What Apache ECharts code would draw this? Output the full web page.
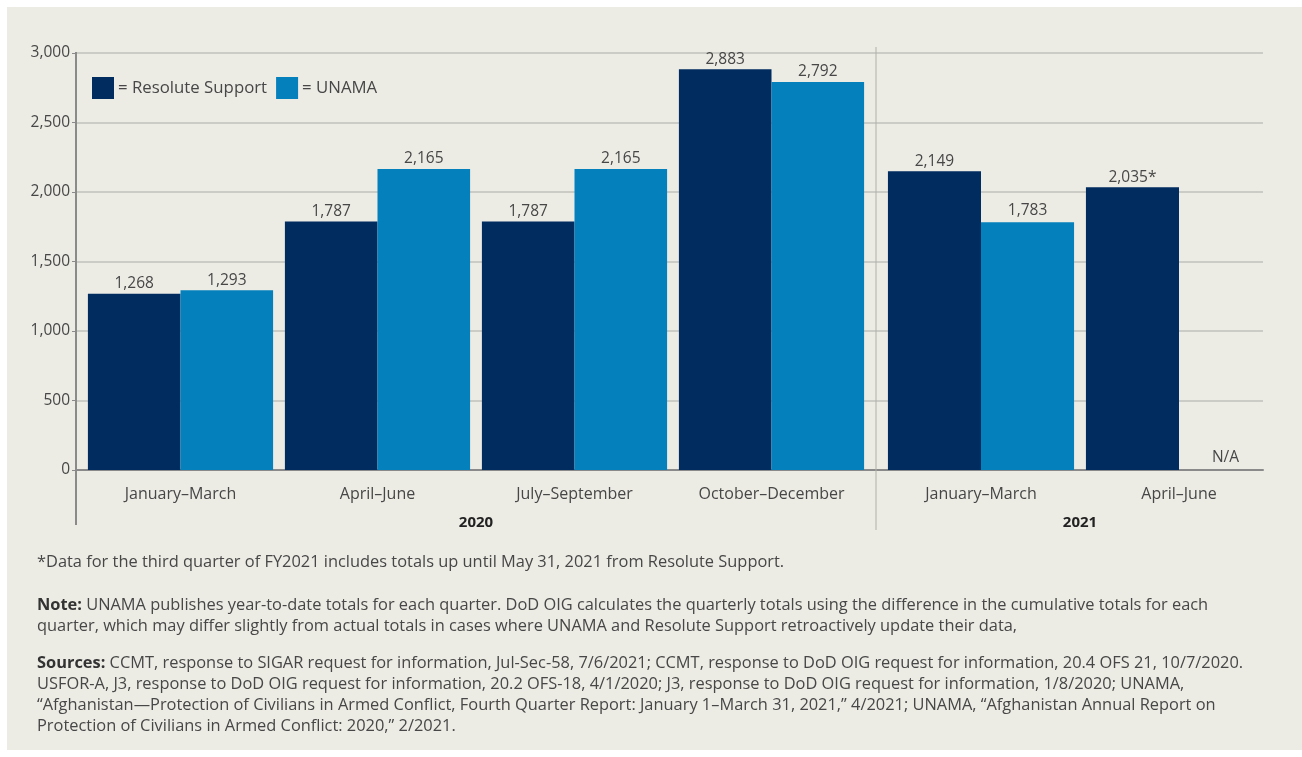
<!DOCTYPE html>
<html>
<head>
<meta charset="utf-8">
<script src="https://cdn.jsdelivr.net/npm/echarts@6/dist/echarts.min.js"></script>
<style>
  html, body { margin: 0; padding: 0; background: #ffffff; }
  #chart { position: absolute; left: 0; top: 0; width: 1302px; height: 757px; }
</style>
</head>
<body>
<div id="chart"></div>
<script>
// quarters per year
var quarters2020 = ['January–March', 'April–June', 'July–September', 'October–December']
var quarters2021 = ['January–March', 'April–June']

// civilian casualties, Resolute Support vs UNAMA
var resolute2020 = [1268, 1787, 1787, 2883]
var unama2020 = [1293, 2165, 2165, 2792]
var resolute2021 = [2149, 2035]
var unama2021 = [1783, null] // N/A
var starred2021 = [false, true] // partial quarter

var yTicks = [0, 500, 1000, 1500, 2000, 2500, 3000]

var DARK = '#002c5f'
var LIGHT = '#0480bd'
var TEXT = '#474747'
var FONT = '"Open Sans", Lato, sans-serif'

var chart = echarts.init(document.getElementById('chart'))

var fmt = function (v) { return v.toLocaleString('en-US') }

var barLabel = {
	show: true,
	position: 'top',
	distance: 2,
	color: TEXT,
	fontSize: 15.5,
	fontFamily: FONT,
	formatter: function (p) { return fmt(p.value) }
}

function catAxis(gridIndex, data, year) {
	return {
		type: 'category',
		gridIndex: gridIndex,
		data: data,
		name: year,
		nameLocation: 'middle',
		nameGap: 45,
		nameTextStyle: { color: '#222', fontWeight: 'bold', fontSize: 15, fontFamily: FONT },
		axisLine: { show: false },
		axisTick: { show: false },
		axisLabel: { color: TEXT, fontSize: 16, fontFamily: FONT, margin: 16, interval: 0 }
	}
}

function hiddenY(gridIndex) {
	return {
		type: 'value', gridIndex: gridIndex, min: 0, max: 3000, interval: 500,
		axisLine: { show: false }, axisTick: { show: false },
		axisLabel: { show: false }, splitLine: { show: false }
	}
}

var noteRich = { b: { fontWeight: 'bold', fill: '#333', fontSize: 16.4, fontFamily: FONT } }

chart.setOption({
	backgroundColor: '#ffffff',
	graphic: [
		{ type: 'rect', z: -10, silent: true, shape: { x: 7, y: 7, width: 1295, height: 743 }, style: { fill: '#ecebe4' } },
		// left axis and year separator
		{ type: 'line', z: 10, shape: { x1: 76, y1: 52, x2: 76, y2: 525 }, style: { stroke: '#8a8a8a', lineWidth: 2 } },
		{ type: 'line', z: 10, shape: { x1: 876, y1: 47, x2: 876, y2: 530 }, style: { stroke: '#b0b0ab', lineWidth: 1 } },
		{
			type: 'text', left: 37, top: 554,
			style: {
				text: '*Data for the third quarter of FY2021 includes totals up until May 31, 2021 from Resolute Support.',
				fill: TEXT, font: '16.4px ' + FONT
			}
		},
		{
			type: 'text', left: 37, top: 595,
			style: {
				text: '{b|Note:} UNAMA publishes year-to-date totals for each quarter. DoD OIG calculates the quarterly totals using the difference in the cumulative totals for each\nquarter, which may differ slightly from actual totals in cases where UNAMA and Resolute Support retroactively update their data,',
				fill: TEXT, font: '16.4px ' + FONT, lineHeight: 21, rich: noteRich
			}
		},
		{
			type: 'text', left: 37, top: 653,
			style: {
				text: '{b|Sources:} CCMT, response to SIGAR request for information, Jul-Sec-58, 7/6/2021; CCMT, response to DoD OIG request for information, 20.4 OFS 21, 10/7/2020.\nUSFOR-A, J3, response to DoD OIG request for information, 20.2 OFS-18, 4/1/2020; J3, response to DoD OIG request for information, 1/8/2020; UNAMA,\n“Afghanistan—Protection of Civilians in Armed Conflict, Fourth Quarter Report: January 1–March 31, 2021,” 4/2021; UNAMA, “Afghanistan Annual Report on\nProtection of Civilians in Armed Conflict: 2020,” 2/2021.',
				fill: TEXT, font: '16.4px ' + FONT, lineHeight: 21, rich: noteRich
			}
		}
	],
	legend: {
		left: 92, top: 77, padding: 0,
		icon: 'rect',
		itemWidth: 22, itemHeight: 22, itemGap: 9,
		formatter: '= {name}',
		textStyle: { color: TEXT, fontSize: 16.8, fontFamily: FONT, padding: [0, 0, 0, -1] },
		data: ['Resolute Support', 'UNAMA']
	},
	grid: [
		{ left: 82, width: 788, top: 53, bottom: 287 },
		{ left: 882, width: 396, top: 53, bottom: 287 },
		{ left: 76, width: 1187, top: 53, bottom: 287 }
	],
	xAxis: [
		catAxis(0, quarters2020, '2020'),
		catAxis(1, quarters2021, '2021'),
		{
			type: 'value', gridIndex: 2, min: 0, max: 1, show: true,
			axisLine: { show: true, lineStyle: { color: '#8a8a8a', width: 2 } },
			axisTick: { show: false }, axisLabel: { show: false }, splitLine: { show: false }
		}
	],
	yAxis: [
		hiddenY(0),
		hiddenY(1),
		{
			type: 'value', gridIndex: 2, min: 0, max: 3000, interval: 500,
			axisLine: { show: false },
			axisTick: { show: true, length: 4, lineStyle: { color: '#8a8a8a' } },
			axisLabel: {
				color: TEXT, fontSize: 15.5, fontFamily: FONT, margin: 6,
				formatter: function (v) { return yTicks.indexOf(v) > -1 ? fmt(v) : '' }
			},
			splitLine: { lineStyle: { color: '#c2c2bd', width: 1.5 } }
		}
	],
	series: [
		{
			name: 'Resolute Support', type: 'bar', xAxisIndex: 0, yAxisIndex: 0,
			data: resolute2020, barGap: '0%', barCategoryGap: '6%',
			itemStyle: { color: DARK }, label: barLabel
		},
		{
			name: 'UNAMA', type: 'bar', xAxisIndex: 0, yAxisIndex: 0,
			data: unama2020, barGap: '0%', barCategoryGap: '6%',
			itemStyle: { color: LIGHT }, label: barLabel
		},
		{
			name: 'Resolute Support', type: 'bar', xAxisIndex: 1, yAxisIndex: 1,
			data: resolute2021, barGap: '0%', barCategoryGap: '6%',
			itemStyle: { color: DARK },
			label: Object.assign({}, barLabel, {
				formatter: function (p) { return fmt(p.value) + (starred2021[p.dataIndex] ? '*' : '') }
			})
		},
		{
			name: 'UNAMA', type: 'bar', xAxisIndex: 1, yAxisIndex: 1,
			// a missing quarter gets a zero-height bar so its N/A label can sit on the axis
			data: unama2021.map(function (v) { return v === null ? { value: 0, missing: true } : v }),
			barGap: '0%', barCategoryGap: '6%',
			itemStyle: { color: LIGHT },
			label: Object.assign({}, barLabel, {
				formatter: function (p) { return unama2021[p.dataIndex] === null ? 'N/A' : fmt(p.value) },
				distance: 4
			})
		}
	]
})
</script>
</body>
</html>
